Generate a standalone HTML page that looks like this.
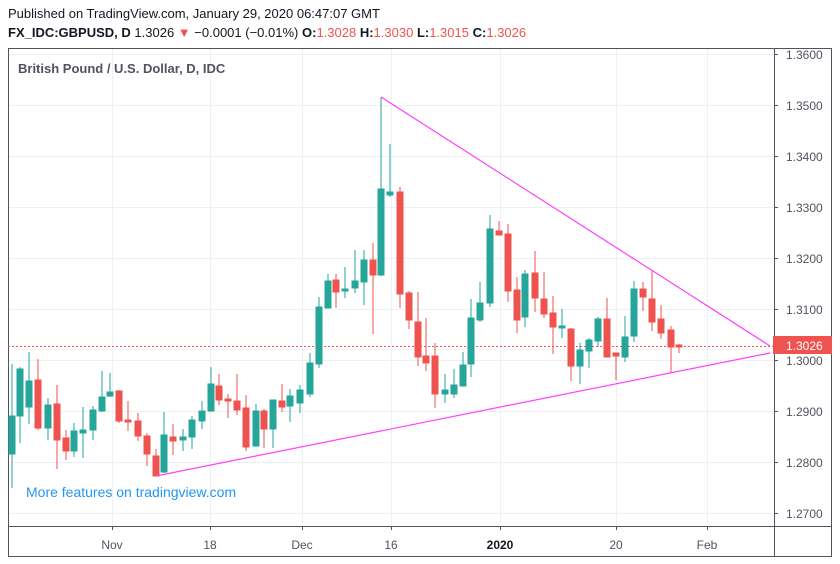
<!DOCTYPE html>
<html><head><meta charset="utf-8"><style>
body{margin:0;background:#fff;width:840px;height:564px;overflow:hidden;font-family:"Liberation Sans",sans-serif}
.t{position:absolute;left:8px;font-size:13px;color:#131722;white-space:nowrap}
</style></head><body>
<div class="t" style="top:6px">Published on TradingView.com, January 29, 2020 06:47:07 GMT</div>
<div class="t" style="top:25px"><b>FX_IDC:GBPUSD, D</b> 1.3026 <span style="color:#ef5350">▼</span> −0.0001 (−0.01%) <b>O:</b><span style="color:#ef5350">1.3028</span> <b>H:</b><span style="color:#ef5350">1.3030</span> <b>L:</b><span style="color:#ef5350">1.3015</span> <b>C:</b><span style="color:#ef5350">1.3026</span></div>
<svg width="840" height="564" style="position:absolute;left:0;top:0" xmlns="http://www.w3.org/2000/svg">
<g stroke="#edf0f5" stroke-width="1">
<line x1="8" x2="774" y1="54.5" y2="54.5"/><line x1="8" x2="774" y1="105.5" y2="105.5"/><line x1="8" x2="774" y1="156.5" y2="156.5"/><line x1="8" x2="774" y1="207.5" y2="207.5"/><line x1="8" x2="774" y1="258.5" y2="258.5"/><line x1="8" x2="774" y1="309.5" y2="309.5"/><line x1="8" x2="774" y1="360.5" y2="360.5"/><line x1="8" x2="774" y1="411.5" y2="411.5"/><line x1="8" x2="774" y1="462.5" y2="462.5"/><line x1="8" x2="774" y1="513.5" y2="513.5"/>
<line x1="112.5" x2="112.5" y1="48" y2="526"/><line x1="210.5" x2="210.5" y1="48" y2="526"/><line x1="302.5" x2="302.5" y1="48" y2="526"/><line x1="391.5" x2="391.5" y1="48" y2="526"/><line x1="500.5" x2="500.5" y1="48" y2="526"/><line x1="616.5" x2="616.5" y1="48" y2="526"/><line x1="707.5" x2="707.5" y1="48" y2="526"/>
</g>
<g fill="none" stroke="#50535e" stroke-width="1">
<rect x="8.5" y="48.5" width="823" height="508"/>
<line x1="774.5" x2="774.5" y1="48" y2="556"/>
<line x1="8" x2="832" y1="526.5" y2="526.5"/>
</g>
<g stroke="#50535e"><line x1="774" x2="778" y1="54.5" y2="54.5"/><line x1="774" x2="778" y1="105.5" y2="105.5"/><line x1="774" x2="778" y1="156.5" y2="156.5"/><line x1="774" x2="778" y1="207.5" y2="207.5"/><line x1="774" x2="778" y1="258.5" y2="258.5"/><line x1="774" x2="778" y1="309.5" y2="309.5"/><line x1="774" x2="778" y1="360.5" y2="360.5"/><line x1="774" x2="778" y1="411.5" y2="411.5"/><line x1="774" x2="778" y1="462.5" y2="462.5"/><line x1="774" x2="778" y1="513.5" y2="513.5"/>
<line x1="112.5" x2="112.5" y1="526" y2="530"/><line x1="210.5" x2="210.5" y1="526" y2="530"/><line x1="302.5" x2="302.5" y1="526" y2="530"/><line x1="391.5" x2="391.5" y1="526" y2="530"/><line x1="500.5" x2="500.5" y1="526" y2="530"/><line x1="616.5" x2="616.5" y1="526" y2="530"/><line x1="707.5" x2="707.5" y1="526" y2="530"/></g>
<g font-size="12" fill="#50535e" font-family="Liberation Sans,sans-serif">
<text x="786" y="59">1.3600</text><text x="786" y="110">1.3500</text><text x="786" y="161">1.3400</text><text x="786" y="212">1.3300</text><text x="786" y="263">1.3200</text><text x="786" y="314">1.3100</text><text x="786" y="365">1.3000</text><text x="786" y="416">1.2900</text><text x="786" y="467">1.2800</text><text x="786" y="518">1.2700</text>
<g text-anchor="middle"><text x="112" y="549">Nov</text><text x="210" y="549">18</text><text x="302" y="549">Dec</text><text x="391" y="549">16</text><text x="500" y="549" font-weight="bold" fill="#131722">2020</text><text x="616" y="549">20</text><text x="707" y="549">Feb</text></g>
</g>
<text x="18" y="73" font-size="13" fill="#50535e" font-weight="bold" font-family="Liberation Sans,sans-serif">British Pound / U.S. Dollar, D, IDC</text>
<text x="26" y="497" font-size="14" fill="#2196f3" font-family="Liberation Sans,sans-serif">More features on tradingview.com</text>
<line x1="8" x2="774" y1="346.5" y2="346.5" stroke="#ef5350" stroke-dasharray="2,2"/>
<g stroke="#26a69a" fill="#26a69a">
<line x1="12" x2="12" y1="364" y2="488"/><rect x="9" y="416" width="6" height="38"/>
<line x1="20" x2="20" y1="367" y2="443"/><rect x="17" y="369" width="6" height="47"/>
<line x1="29" x2="29" y1="352" y2="424"/><rect x="26" y="381" width="6" height="26"/>
<line x1="48" x2="48" y1="398" y2="440"/><rect x="45" y="405" width="6" height="23"/>
<line x1="74" x2="74" y1="423" y2="457"/><rect x="71" y="431" width="6" height="20"/>
<line x1="83" x2="83" y1="407" y2="458"/><rect x="80" y="430" width="6" height="3"/>
<line x1="93" x2="93" y1="406" y2="440"/><rect x="90" y="410" width="6" height="20"/>
<line x1="102" x2="102" y1="371" y2="412"/><rect x="99" y="397" width="6" height="14"/>
<line x1="110" x2="110" y1="373" y2="397"/><rect x="107" y="392" width="6" height="4"/>
<line x1="164" x2="164" y1="412" y2="473"/><rect x="161" y="435" width="6" height="37"/>
<line x1="183" x2="183" y1="429" y2="451"/><rect x="180" y="437" width="6" height="3"/>
<line x1="192" x2="192" y1="416" y2="449"/><rect x="189" y="420" width="6" height="17"/>
<line x1="202" x2="202" y1="401" y2="429"/><rect x="199" y="411" width="6" height="10"/>
<line x1="211" x2="211" y1="367" y2="412"/><rect x="208" y="384" width="6" height="27"/>
<line x1="256" x2="256" y1="404" y2="446"/><rect x="253" y="411" width="6" height="35"/>
<line x1="273" x2="273" y1="400" y2="448"/><rect x="270" y="400" width="6" height="29"/>
<line x1="290" x2="290" y1="389" y2="422"/><rect x="287" y="396" width="6" height="10"/>
<line x1="300" x2="300" y1="385" y2="413"/><rect x="297" y="390" width="6" height="13"/>
<line x1="310" x2="310" y1="353" y2="397"/><rect x="307" y="363" width="6" height="31"/>
<line x1="319" x2="319" y1="297" y2="368"/><rect x="316" y="307" width="6" height="57"/>
<line x1="328" x2="328" y1="274" y2="308"/><rect x="325" y="281" width="6" height="27"/>
<line x1="345" x2="345" y1="267" y2="298"/><rect x="342" y="289" width="6" height="2"/>
<line x1="355" x2="355" y1="250" y2="293"/><rect x="352" y="281" width="6" height="7"/>
<line x1="364" x2="364" y1="250" y2="305"/><rect x="361" y="260" width="6" height="22"/>
<line x1="381" x2="381" y1="97" y2="276"/><rect x="378" y="189" width="6" height="86"/>
<line x1="390" x2="390" y1="144" y2="197"/><rect x="387" y="192" width="6" height="3"/>
<line x1="445" x2="445" y1="374" y2="403"/><rect x="442" y="390" width="6" height="4"/>
<line x1="454" x2="454" y1="369" y2="398"/><rect x="451" y="385" width="6" height="9"/>
<line x1="463" x2="463" y1="352" y2="386"/><rect x="460" y="365" width="6" height="21"/>
<line x1="471" x2="471" y1="299" y2="377"/><rect x="468" y="318" width="6" height="46"/>
<line x1="480" x2="480" y1="282" y2="322"/><rect x="477" y="303" width="6" height="17"/>
<line x1="490" x2="490" y1="215" y2="307"/><rect x="487" y="229" width="6" height="74"/>
<line x1="525" x2="525" y1="270" y2="327"/><rect x="522" y="274" width="6" height="43"/>
<line x1="562" x2="562" y1="309" y2="338"/><rect x="559" y="326" width="6" height="2"/>
<line x1="580" x2="580" y1="343" y2="384"/><rect x="577" y="350" width="6" height="16"/>
<line x1="589" x2="589" y1="338" y2="368"/><rect x="586" y="340" width="6" height="11"/>
<line x1="598" x2="598" y1="317" y2="347"/><rect x="595" y="319" width="6" height="22"/>
<line x1="625" x2="625" y1="316" y2="362"/><rect x="622" y="337" width="6" height="20"/>
<line x1="634" x2="634" y1="281" y2="342"/><rect x="631" y="289" width="6" height="47"/>
</g>
<g stroke="#ef5350" fill="#ef5350">
<line x1="38" x2="38" y1="359" y2="430"/><rect x="35" y="380" width="6" height="48"/>
<line x1="57" x2="57" y1="385" y2="469"/><rect x="54" y="404" width="6" height="36"/>
<line x1="66" x2="66" y1="430" y2="460"/><rect x="63" y="438" width="6" height="13"/>
<line x1="119" x2="119" y1="390" y2="423"/><rect x="116" y="391" width="6" height="30"/>
<line x1="128" x2="128" y1="401" y2="431"/><rect x="125" y="420" width="6" height="2"/>
<line x1="138" x2="138" y1="413" y2="441"/><rect x="135" y="421" width="6" height="15"/>
<line x1="147" x2="147" y1="433" y2="466"/><rect x="144" y="436" width="6" height="18"/>
<line x1="156" x2="156" y1="449" y2="476"/><rect x="153" y="456" width="6" height="20"/>
<line x1="173" x2="173" y1="424" y2="455"/><rect x="170" y="437" width="6" height="4"/>
<line x1="219" x2="219" y1="374" y2="405"/><rect x="216" y="386" width="6" height="14"/>
<line x1="228" x2="228" y1="394" y2="418"/><rect x="225" y="399" width="6" height="2"/>
<line x1="237" x2="237" y1="374" y2="415"/><rect x="234" y="401" width="6" height="9"/>
<line x1="246" x2="246" y1="395" y2="451"/><rect x="243" y="408" width="6" height="39"/>
<line x1="264" x2="264" y1="409" y2="448"/><rect x="261" y="411" width="6" height="18"/>
<line x1="282" x2="282" y1="384" y2="412"/><rect x="279" y="401" width="6" height="6"/>
<line x1="336" x2="336" y1="274" y2="308"/><rect x="333" y="280" width="6" height="12"/>
<line x1="373" x2="373" y1="243" y2="334"/><rect x="370" y="260" width="6" height="15"/>
<line x1="400" x2="400" y1="187" y2="308"/><rect x="397" y="192" width="6" height="102"/>
<line x1="409" x2="409" y1="291" y2="329"/><rect x="406" y="293" width="6" height="27"/>
<line x1="418" x2="418" y1="292" y2="366"/><rect x="415" y="322" width="6" height="35"/>
<line x1="426" x2="426" y1="318" y2="371"/><rect x="423" y="356" width="6" height="7"/>
<line x1="435" x2="435" y1="343" y2="408"/><rect x="432" y="356" width="6" height="38"/>
<line x1="499" x2="499" y1="221" y2="235"/><rect x="496" y="231" width="6" height="4"/>
<line x1="508" x2="508" y1="224" y2="302"/><rect x="505" y="234" width="6" height="57"/>
<line x1="517" x2="517" y1="277" y2="333"/><rect x="514" y="290" width="6" height="30"/>
<line x1="535" x2="535" y1="251" y2="312"/><rect x="532" y="273" width="6" height="25"/>
<line x1="544" x2="544" y1="272" y2="318"/><rect x="541" y="299" width="6" height="15"/>
<line x1="553" x2="553" y1="296" y2="354"/><rect x="550" y="313" width="6" height="14"/>
<line x1="571" x2="571" y1="328" y2="381"/><rect x="568" y="329" width="6" height="37"/>
<line x1="607" x2="607" y1="298" y2="357"/><rect x="604" y="319" width="6" height="38"/>
<line x1="616" x2="616" y1="353" y2="380"/><rect x="613" y="353" width="6" height="3"/>
<line x1="643" x2="643" y1="282" y2="311"/><rect x="640" y="289" width="6" height="8"/>
<line x1="652" x2="652" y1="271" y2="331"/><rect x="649" y="299" width="6" height="23"/>
<line x1="661" x2="661" y1="305" y2="339"/><rect x="658" y="319" width="6" height="14"/>
<line x1="671" x2="671" y1="326" y2="373"/><rect x="668" y="330" width="6" height="17"/>
<line x1="679" x2="679" y1="344" y2="353"/><rect x="676" y="345" width="6" height="2"/>
</g>
<g stroke="#ff40ff" stroke-width="1.2" fill="none">
<line x1="381" y1="97" x2="770" y2="346"/>
<line x1="156" y1="476" x2="770" y2="353"/>
</g>
<rect x="773" y="336" width="59" height="18" fill="#ef5350"/>
<text x="786" y="350" font-size="12" fill="#fff" font-family="Liberation Sans,sans-serif">1.3026</text>
</svg>
</body></html>
